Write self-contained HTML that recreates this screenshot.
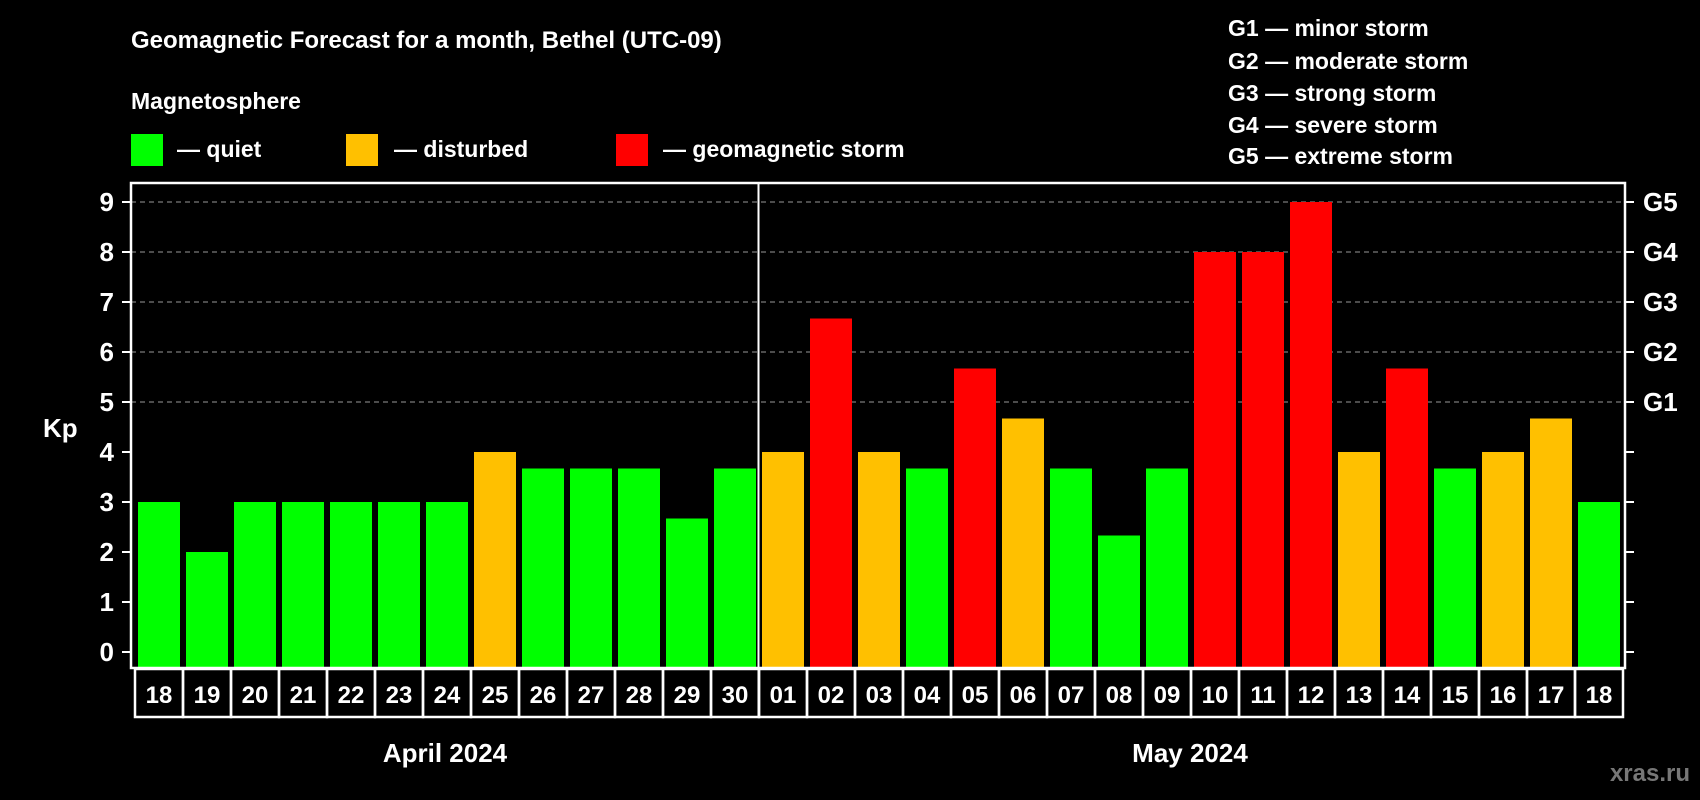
<!DOCTYPE html>
<html><head><meta charset="utf-8"><style>
html,body{margin:0;padding:0;background:#000;}
svg{display:block;font-family:"Liberation Sans",Arial,sans-serif;font-weight:bold;}
</style></head><body>
<svg id="chart" width="1700" height="800" viewBox="0 0 1700 800">
<rect width="1700" height="800" fill="#000"/>
<text x="131" y="48" fill="#fff" font-size="24">Geomagnetic Forecast for a month, Bethel (UTC-09)</text>
<text x="131" y="109" fill="#fff" font-size="23">Magnetosphere</text>
<g><rect x="131" y="134" width="32" height="32" fill="#00ff00"/><text x="177" y="157" fill="#fff" font-size="23">— quiet</text></g>
<g><rect x="346" y="134" width="32" height="32" fill="#ffc000"/><text x="394" y="157" fill="#fff" font-size="23">— disturbed</text></g>
<g><rect x="616" y="134" width="32" height="32" fill="#ff0000"/><text x="663" y="157" fill="#fff" font-size="23">— geomagnetic storm</text></g>
<g fill="#fff" font-size="23">
<text x="1228" y="36">G1 — minor storm</text>
<text x="1228" y="69">G2 — moderate storm</text>
<text x="1228" y="101">G3 — strong storm</text>
<text x="1228" y="133">G4 — severe storm</text>
<text x="1228" y="164">G5 — extreme storm</text>
</g>
<text x="43" y="437" fill="#fff" font-size="26">Kp</text>
<g id="grid"></g><g id="bars"></g><g id="axes"></g>
<text x="445" y="762" fill="#fff" font-size="26" text-anchor="middle">April 2024</text>
<text x="1190" y="762" fill="#fff" font-size="26" text-anchor="middle">May 2024</text>
<text x="1690" y="781" fill="#777" font-size="24" text-anchor="end">xras.ru</text>
</svg>
<script>
const days = ["18","19","20","21","22","23","24","25","26","27","28","29","30","01","02","03","04","05","06","07","08","09","10","11","12","13","14","15","16","17","18"];
const kpValues = [3,2,3,3,3,3,3,4,3.67,3.67,3.67,2.67,3.67,4,6.67,4,3.67,5.67,4.67,3.67,2.33,3.67,8,8,9,4,5.67,3.67,4,4.67,3];
const yTicks = [0,1,2,3,4,5,6,7,8,9];
const gLabels = ["G1","G2","G3","G4","G5"];
const gLevels = [5,6,7,8,9];
const monthSplit = 13;

const NS="http://www.w3.org/2000/svg";
const L=131,R=1625,T=183,B=668,Y0=652,UNIT=50,SLOT=48,X0=135;
const y=v=>Y0-v*UNIT;
const x=i=>X0+i*SLOT;
function mk(tag,attrs,parent){const e=document.createElementNS(NS,tag);for(const k in attrs)e.setAttribute(k,attrs[k]);parent.appendChild(e);return e;}
const grid=document.getElementById('grid'),bars=document.getElementById('bars'),axes=document.getElementById('axes');
gLevels.forEach((g,i)=>{
  const ln=mk('line',{x1:L,x2:R,y1:y(g),y2:y(g),stroke:'#999','stroke-width':1,'stroke-dasharray':'5,4'},grid);
  
  
  const t=mk('text',{x:1643,y:y(g)+9,fill:'#fff','font-size':26},axes);t.textContent=gLabels[i];
  
  
});
kpValues.forEach((v,i)=>{
  const c=v>=5?'#ff0000':(v>=4?'#ffc000':'#00ff00');
  const r=mk('rect',{x:x(i)+3,y:y(v),width:42,height:v*UNIT+(B-Y0)-1,fill:c},bars);
  
  
  const bx=mk('rect',{x:x(i),y:669,width:SLOT,height:48,fill:'none',stroke:'#fff','stroke-width':2.5},axes);
  
  
  const t=mk('text',{x:x(i)+SLOT/2,y:703,fill:'#fff','font-size':24,'text-anchor':'middle'},axes);t.textContent=days[i];
  
  
});
const fr=mk('rect',{x:L,y:T,width:R-L,height:B-T,fill:'none',stroke:'#fff','stroke-width':2.5},axes);


const sep=mk('line',{x1:x(monthSplit)-0.5,x2:x(monthSplit)-0.5,y1:T,y2:717,stroke:'#fff','stroke-width':2},axes);


yTicks.forEach(v=>{
  mk('line',{x1:122,x2:L,y1:y(v),y2:y(v),stroke:'#fff','stroke-width':2},axes);
  mk('line',{x1:R,x2:1634,y1:y(v),y2:y(v),stroke:'#fff','stroke-width':2},axes);
  const t=mk('text',{x:114,y:y(v)+9,fill:'#fff','font-size':26,'text-anchor':'end'},axes);t.textContent=v;
  
  
});
</script>
</body></html>
